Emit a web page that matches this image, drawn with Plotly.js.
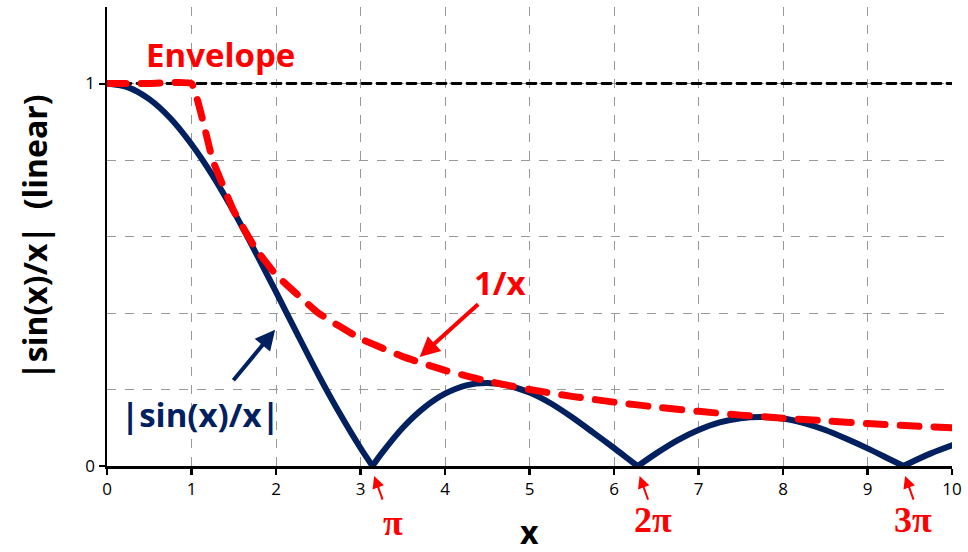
<!DOCTYPE html>
<html><head><meta charset="utf-8">
<script src="https://cdn.plot.ly/plotly-3.0.1.min.js"></script>
<style>html,body{margin:0;padding:0;background:#fff}#chart{width:968px;height:552px}
#chart .scatterlayer path.js-line{stroke-linecap:round !important;stroke-linejoin:round !important}</style>
</head><body><div id="chart"></div>
<script>
// |sin(x)/x| values
const sincX = [0,0.25,0.5,0.75,1,1.25,1.5,1.75,2,2.25,2.5,2.75,3,3.1416,3.25,3.5,3.75,4,4.25,4.5,4.75,5,5.25,5.5,5.75,6,6.25,6.2832,6.5,6.75,7,7.25,7.5,7.75,8,8.25,8.5,8.75,9,9.25,9.4248,9.5,9.75,10];
const sincY = [1,0.990,0.959,0.909,0.841,0.759,0.665,0.562,0.455,0.346,0.239,0.139,0.047,0,0.033,0.100,0.152,0.189,0.211,0.217,0.210,0.192,0.164,0.128,0.088,0.047,0.005,0,0.033,0.067,0.094,0.114,0.125,0.128,0.124,0.112,0.094,0.071,0.046,0.019,0,0.008,0.033,0.054];
// envelope (1 up to x=1, then 1/x)
const envX = [0,0.5,1,1.25,1.5,1.75,2,2.5,3,3.5,4,4.5,5,5.5,6,6.5,7,7.5,8,8.5,9,9.5,10];
const envY = [1,1,1,0.8,0.667,0.571,0.5,0.4,0.333,0.286,0.25,0.222,0.2,0.182,0.167,0.154,0.143,0.133,0.125,0.118,0.111,0.105,0.1];
// unity reference line
const refX = [0,10];
const refY = [1,1];
// zero positions
const zeroX = [3.1416,6.2832,9.4248];
const zeroLabels = ['π','2π','3π'];

const FONT = '"Open Sans", sans-serif';
const RED = '#FF0000', NAVY = '#002060';

const traces = [
  {x: refX, y: refY, mode:'lines', line:{color:'#000', width:2.8, dash:'9px,6px'}, hoverinfo:'skip'}
];
// split the |sin(x)/x| curve at its zeros so each lobe is a smooth arch
let start = 0;
sincY.forEach((v,i)=>{
  if ((v === 0 && i > 0) || i === sincY.length-1) {
    traces.push({x: sincX.slice(start,i+1), y: sincY.slice(start,i+1), mode:'lines',
                 line:{color:NAVY, width:6, shape:'spline', smoothing:0.8}});
    start = i;
  }
});
traces.push({x: envX, y: envY, mode:'lines', line:{color:RED, width:7, dash:'19px,15px', shape:'spline', smoothing:0.3}});

const labelOffsets = [[0.24,-0.124],[0.18,-0.118],[0.11,-0.118]];
const ann = [
  {xref:'x', yref:'y', x:1.34, y:1.076, text:'<b>Envelope</b>', showarrow:false, font:{family:FONT, size:33, color:RED}},
  {xref:'x', yref:'y', x:4.65, y:0.479, text:'<b>1/x</b>', showarrow:false, font:{family:FONT, size:33, color:RED}},
  {xref:'x', yref:'y', x:3.70, y:0.285, text:'', showarrow:true, ax:60, ay:-54, arrowcolor:RED, arrowwidth:4, arrowhead:2, arrowsize:1},
  {xref:'x', yref:'y', x:1.11, y:0.134, text:'<b>|sin(x)/x|</b>', showarrow:false, font:{family:FONT, size:33, color:NAVY}},
  {xref:'x', yref:'y', x:1.99, y:0.356, text:'', showarrow:true, ax:-43, ay:52, arrowcolor:NAVY, arrowwidth:4, arrowhead:2, arrowsize:1},
  {xref:'paper', yref:'paper', x:-0.086, y:0.5, xanchor:'center', yanchor:'middle', text:'<b>|sin(x)/x|\u00a0\u00a0(linear)</b>', textangle:-90, showarrow:false, font:{family:FONT, size:32, color:'#000'}},
  {xref:'paper', yref:'paper', x:0.5, y:-0.142, xanchor:'center', yanchor:'middle', text:'<b>x</b>', showarrow:false, font:{family:FONT, size:32, color:'#000'}}
];
zeroX.forEach((z,i)=>{
  ann.push({xref:'x', yref:'paper', x:z+labelOffsets[i][0], y:labelOffsets[i][1], xanchor:'center', yanchor:'middle', text:'<b>'+zeroLabels[i]+'</b>', showarrow:false, font:{family:'"Liberation Serif", serif', size:36, color:RED}});
  ann.push({xref:'x', yref:'paper', x:z+0.02, y:-0.022, text:'', showarrow:true, ax:9, ay:25, arrowcolor:RED, arrowwidth:2, arrowhead:2, arrowsize:1.2});
});

const layout = {
  width:968, height:552,
  margin:{l:107, r:16, t:7, b:86},
  paper_bgcolor:'#fff', plot_bgcolor:'#fff',
  showlegend:false,
  font:{family:FONT, size:17, color:'#000'},
  xaxis:{range:[0,10], dtick:1, tick0:0, ticks:'outside', ticklen:6, tickwidth:2.5, tickcolor:'#000',
         showline:true, linecolor:'#000', linewidth:2.5, showgrid:true, gridcolor:'#999', griddash:'dash', gridwidth:1,
         zeroline:false, tickfont:{family:FONT, size:17}, fixedrange:true},
  yaxis:{range:[0,1.2], dtick:1, tick0:0, ticks:'outside', ticklen:6, tickwidth:2, tickcolor:'#000',
         showline:true, linecolor:'#000', linewidth:2.5, showgrid:true, gridcolor:'#999', griddash:'dash', gridwidth:1,
         minor:{dtick:0.2, showgrid:true, gridcolor:'#999', griddash:'dash', gridwidth:1},
         zeroline:false, tickfont:{family:FONT, size:17}, fixedrange:true},
  annotations: ann
};
Plotly.newPlot('chart', traces, layout, {displayModeBar:false, staticPlot:true});
</script></body></html>
